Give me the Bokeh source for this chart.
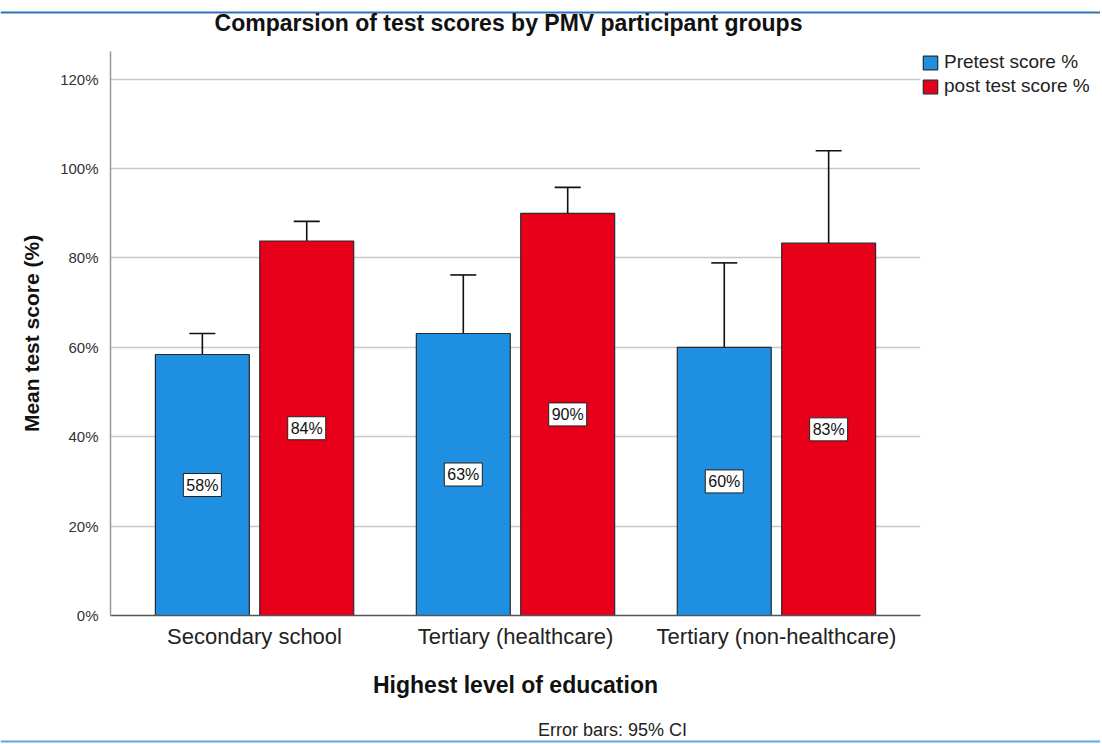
import numpy as np
from bokeh.plotting import figure
from bokeh.models import (ColumnDataSource, Range1d, FixedTicker, PrintfTickFormatter,
                          Whisker, TeeHead, Legend, LegendItem, Label, Span)
from bokeh.layouts import column, row
from bokeh.core.properties import value
from bokeh.embed import file_html
from bokeh.resources import INLINE

# ---- data ----
title_text = "Comparsion of test scores by PMV participant groups"
note_text = "Error bars: 95% CI"
categories = ["Secondary school", "Tertiary (healthcare)", "Tertiary (non-healthcare)"]
series_names = ["Pretest score %", "post test score %"]
pretest = [58.4, 63.1, 60.0]
pretest_lower = [53.8, 50.0, 41.3]
pretest_upper = [63.1, 76.2, 78.9]
posttest = [83.8, 90.0, 83.3]
posttest_lower = [79.3, 84.2, 62.7]
posttest_upper = [88.2, 95.8, 104.0]
pre_labels = ["58%", "63%", "60%"]
post_labels = ["84%", "90%", "83%"]
y_ticks = [0, 20, 40, 60, 80, 100, 120]

FONT = "Liberation Sans"
BLUE = "#1E8FE1"
RED = "#E8001A"
EDGE = "#2a2a2a"
W = 1100
TOP_H = 40
MAIN_H = 660
NOTE_H = 43

centers = np.arange(len(categories)) + 0.5
off = 0.2
bw = 0.36

pre_src = ColumnDataSource(dict(x=centers - off, top=pretest, lower=pretest_lower,
                                upper=pretest_upper, mid=np.array(pretest) / 2, lab=pre_labels))
post_src = ColumnDataSource(dict(x=centers + off, top=posttest, lower=posttest_lower,
                                 upper=posttest_upper, mid=np.array(posttest) / 2, lab=post_labels))


def strip(width, height, **kw):
    f = figure(width=width, height=height, output_backend="svg", toolbar_location=None,
               title=None, x_axis_type=None, y_axis_type=None, **kw)
    f.outline_line_color = None
    f.grid.grid_line_color = None
    return f


# ---- title strip ----
tf = strip(W, TOP_H, min_border=0, x_range=Range1d(0, W), y_range=Range1d(0, TOP_H))
tf.add_layout(Span(location=TOP_H - 12, dimension="width", line_color="#2E72B5", line_width=2))
tf.add_layout(Label(x=508, y=TOP_H - 22, text=title_text, text_align="center",
                    text_baseline="middle", text_font=FONT, text_font_size="23px",
                    text_font_style="bold", text_color="#111111"))

# ---- main chart ----
p = figure(width=921, height=MAIN_H, output_backend="svg", toolbar_location=None, title=None,
           x_range=Range1d(-0.052, len(categories) + 0.052), y_range=Range1d(0, 126.2),
           min_border_left=110, min_border_right=1, min_border_top=7, min_border_bottom=85)
p.outline_line_color = None
p.background_fill_color = "white"

p.vbar(x="x", top="top", width=bw, source=pre_src, fill_color=BLUE,
       line_color=EDGE, line_width=1.2)
p.vbar(x="x", top="top", width=bw, source=post_src, fill_color=RED,
       line_color=EDGE, line_width=1.2)

for src in (pre_src, post_src):
    w = Whisker(base="x", lower="lower", upper="upper", source=src, dimension="height",
                line_color="#111111", line_width=1.6,
                upper_head=TeeHead(size=26, line_color="#111111", line_width=1.6),
                lower_head=TeeHead(size=26, line_color="#111111", line_width=1.6))
    p.add_layout(w)
    p.text(x="x", y="mid", text="lab", source=src, text_align="center", text_baseline="middle",
           text_font=value(FONT), text_font_size="16px", text_color="#111111",
           background_fill_color="white", border_line_color="#222222", border_line_width=1,
           padding=3)

p.xaxis.ticker = FixedTicker(ticks=list(centers))
p.xaxis.major_label_overrides = {float(c): n for c, n in zip(centers, categories)}
p.xaxis.major_tick_line_color = None
p.xaxis.minor_tick_line_color = None
p.xaxis.axis_line_color = "#555555"
p.xaxis.axis_line_width = 1.5
p.xaxis.major_label_text_font = FONT
p.xaxis.major_label_text_font_size = "22px"
p.xaxis.major_label_text_color = "#222222"
p.xaxis.major_label_standoff = 2
p.xaxis.axis_label = "Highest level of education"
p.xaxis.axis_label_text_font = FONT
p.xaxis.axis_label_text_font_size = "23px"
p.xaxis.axis_label_text_font_style = "bold"
p.xaxis.axis_label_text_color = "#111111"
p.xaxis.axis_label_standoff = 20

p.yaxis.ticker = FixedTicker(ticks=y_ticks)
p.yaxis.formatter = PrintfTickFormatter(format="%d%%")
p.yaxis.major_tick_line_color = None
p.yaxis.minor_tick_line_color = None
p.yaxis.axis_line_color = "#999999"
p.yaxis.axis_line_width = 1.5
p.yaxis.major_label_text_font = FONT
p.yaxis.major_label_text_font_size = "15px"
p.yaxis.major_label_text_color = "#333333"
p.yaxis.major_label_standoff = 6
p.yaxis.axis_label = "Mean test score (%)"
p.yaxis.axis_label_text_font = FONT
p.yaxis.axis_label_text_font_size = "21px"
p.yaxis.axis_label_text_font_style = "bold"
p.yaxis.axis_label_text_color = "#111111"
p.yaxis.axis_label_standoff = 14

p.xgrid.grid_line_color = None
p.ygrid.grid_line_color = "#c8c8c8"
p.ygrid.grid_line_width = 1.5

# ---- legend strip (right of the frame); zero-size proxy bars give the legend swatches ----
lf = strip(W - 921, MAIN_H, min_border_left=0, min_border_right=0, min_border_top=11,
           min_border_bottom=0, x_range=Range1d(0, 1), y_range=Range1d(0, 1))
r1 = lf.vbar(x=[0.99], top=[0.0], bottom=[0.0], width=0, fill_color=BLUE,
             line_color=EDGE, line_width=1.2)
r2 = lf.vbar(x=[0.99], top=[0.0], bottom=[0.0], width=0, fill_color=RED,
             line_color=EDGE, line_width=1.2)
legend = Legend(items=[LegendItem(label=series_names[0], renderers=[r1]),
                       LegendItem(label=series_names[1], renderers=[r2])],
                location="top_left", margin=0, padding=2, spacing=2,
                glyph_width=18, glyph_height=17, label_standoff=5, label_height=22,
                label_text_font=FONT, label_text_font_size="19px", label_text_color="#222222",
                border_line_color=None, background_fill_color=None)
lf.add_layout(legend)

# ---- footnote strip ----
nf = strip(W, NOTE_H, min_border=0, x_range=Range1d(0, W), y_range=Range1d(0, NOTE_H))
nf.add_layout(Label(x=612, y=14, text=note_text, text_align="center",
                    text_baseline="middle", text_font=FONT, text_font_size="18px",
                    text_color="#222222"))
nf.add_layout(Span(location=2, dimension="width", line_color="#62A8DC", line_width=2))

layout = column(tf, row(p, lf, spacing=0), nf, spacing=0)
open("out.html", "w").write(file_html(layout, INLINE))
